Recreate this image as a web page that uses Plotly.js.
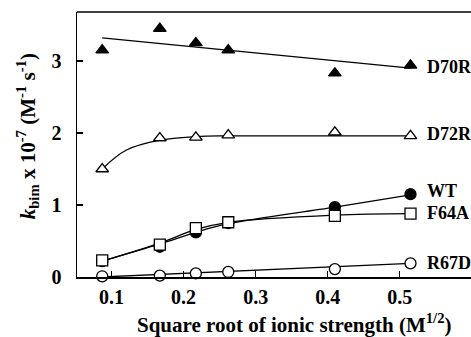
<!DOCTYPE html>
<html>
<head>
<meta charset="utf-8">
<script src="https://cdn.plot.ly/plotly-3.0.1.min.js"></script>
<style>html,body{margin:0;padding:0;background:#fff}#chart{width:471px;height:337px}</style>
</head>
<body>
<div id="chart"></div>
<script>
// Measured data
const ionicX = [0.087, 0.167, 0.217, 0.262, 0.41, 0.515];
const D70R = [3.15, 3.45, 3.25, 3.15, 2.83, 2.94];
const D72R = [1.50, 1.93, 1.94, 1.97, 2.01, 1.96];
const WT   = [0.22, 0.42, 0.62, 0.75, 0.97, 1.15];
const F64A = [0.23, 0.45, 0.68, 0.76, 0.85, 0.88];
const R67D = [0.01, 0.02, 0.05, 0.07, 0.11, 0.19];

// Fitted curves
const fitD70R_x = [0.087, 0.515];
const fitD70R_y = [3.32, 2.90];
const fitD72R_x = [0.087, 0.12, 0.167, 0.217, 0.262, 0.41, 0.515];
const fitD72R_y = [1.50, 1.76, 1.90, 1.95, 1.96, 1.96, 1.96];
const fitWT_x = [0.087, 0.167, 0.217, 0.262, 0.41, 0.515];
const fitWT_y = [0.22, 0.46, 0.62, 0.74, 0.97, 1.14];
const fitF64A_x = [0.087, 0.167, 0.217, 0.262, 0.41, 0.515];
const fitF64A_y = [0.22, 0.47, 0.66, 0.76, 0.86, 0.88];
const fitR67D_x = [0.087, 0.515];
const fitR67D_y = [0.00, 0.19];

const labels = ['D70R', 'D72R', 'WT', 'F64A', 'R67D'];
const labelY = [2.91, 1.98, 1.20, 0.89, 0.19];
const xTicks = [0.1, 0.2, 0.3, 0.4, 0.5];
const yTicks = [0, 1, 2, 3];
const xTitle = 'Square root of ionic strength (M<sup>1/2</sup>)';
const yTitle = '<i>k</i><sub>bim</sub> x 10<sup>-7</sup> (M<sup>-1</sup> s<sup>-1</sup>)';

const FONT = 'Liberation Serif, Times New Roman, serif';

function fit(x, y, shape) {
  return {x: x, y: y, mode: 'lines', type: 'scatter', hoverinfo: 'skip',
    line: {color: '#000', width: 1.3, shape: shape || 'linear', smoothing: 1},
    cliponaxis: false, showlegend: false};
}
function pts(y, symbol, fill) {
  return {x: ionicX, y: y, mode: 'markers', type: 'scatter', cliponaxis: false,
    marker: {symbol: symbol, size: 11, color: fill, line: {color: '#000', width: 1.3}},
    showlegend: false};
}

const data = [
  fit(fitD70R_x, fitD70R_y),
  fit(fitD72R_x, fitD72R_y, 'spline'),
  fit(fitWT_x, fitWT_y, 'spline'),
  fit(fitF64A_x, fitF64A_y, 'spline'),
  fit(fitR67D_x, fitR67D_y),
  pts(D70R, 'triangle-up', '#000'),
  pts(D72R, 'triangle-up', '#fff'),
  pts(WT, 'circle', '#000'),
  pts(F64A, 'square', '#fff'),
  pts(R67D, 'circle', '#fff')
];

const annotations = labels.map((t, i) => ({
  x: 0.535, y: labelY[i], xref: 'x', yref: 'y', text: '<b>' + t + '</b>',
  showarrow: false, xanchor: 'left', yanchor: 'middle',
  font: {family: FONT, size: 18, color: '#000'}
}));
annotations.push({
  x: 0.551, y: -0.175, xref: 'paper', yref: 'paper', text: '<b>' + xTitle + '</b>',
  showarrow: false, xanchor: 'center', yanchor: 'middle',
  font: {family: FONT, size: 21, color: '#000'}
});
annotations.push({
  x: -0.125, y: 0.53, xref: 'paper', yref: 'paper', text: '<b>' + yTitle + '</b>',
  showarrow: false, xanchor: 'center', yanchor: 'middle', textangle: -90,
  font: {family: FONT, size: 21, color: '#000'}
});

const layout = {
  width: 471, height: 337,
  margin: {l: 77, r: 0, t: 12, b: 60},
  paper_bgcolor: '#fff', plot_bgcolor: '#fff',
  font: {family: FONT, color: '#000'},
  xaxis: {
    range: [0.052, 0.599], tickvals: xTicks, ticktext: xTicks.map(v => '<b>' + v.toFixed(1) + '</b>'),
    ticks: 'inside', ticklen: 6, tickwidth: 1.2, tickcolor: '#000',
    showline: true, linecolor: '#000', linewidth: 1.5, showgrid: false, zeroline: false,
    tickfont: {family: FONT, size: 20, color: '#000'}, ticklabelstandoff: 1
  },
  yaxis: {
    range: [0, 3.68], tickvals: yTicks, ticktext: yTicks.map(v => '<b>' + v + '</b>'),
    ticks: 'inside', ticklen: 6, tickwidth: 1.2, tickcolor: '#000',
    showline: true, linecolor: '#000', linewidth: 1.5, showgrid: false, zeroline: false,
    tickfont: {family: FONT, size: 20, color: '#000'}, ticklabelstandoff: 10
  },
  shapes: [{type: 'line', xref: 'paper', yref: 'paper', x0: 0, x1: 1, y0: 1, y1: 1, line: {color: '#000', width: 1.5}}],
  annotations: annotations
};

Plotly.newPlot('chart', data, layout, {staticPlot: true, displayModeBar: false});
</script>
</body>
</html>
